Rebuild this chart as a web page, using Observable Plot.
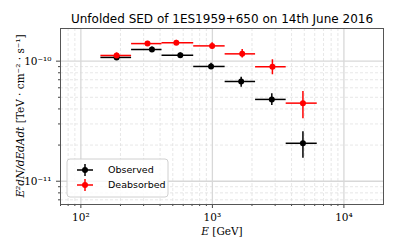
<!DOCTYPE html>
<html><head><meta charset="utf-8">
<script src="https://cdn.jsdelivr.net/npm/d3@7"></script>
<script src="https://cdn.jsdelivr.net/npm/@observablehq/plot@0.6"></script>
<style>body{margin:0;background:#fff}</style>
</head><body><div id="chart"></div>
<script>
const title = "Unfolded SED of 1ES1959+650 on 14th June 2016";
const binLow  = [142, 243, 414, 721, 1250, 2130, 3640];
const binHigh = [243, 414, 721, 1250, 2130, 3640, 6270];
const obsE    = [187, 347, 570, 977, 1655, 2830, 4880];
const obsFlux = [1.074e-10, 1.25e-10, 1.12e-10, 9.03e-11, 6.77e-11, 4.8e-11, 2.07e-11];
const obsLo   = [1.02e-10, 1.20e-10, 1.07e-10, 8.5e-11, 6.07e-11, 4.27e-11, 1.556e-11];
const obsHi   = [1.13e-10, 1.31e-10, 1.17e-10, 9.6e-11, 7.36e-11, 5.35e-11, 2.58e-11];
const deaE    = [187, 321, 532, 995, 1685, 2860, 4880];
const deaFlux = [1.115e-10, 1.40e-10, 1.42e-10, 1.34e-10, 1.15e-10, 8.98e-11, 4.47e-11];
const deaLo   = [1.06e-10, 1.34e-10, 1.36e-10, 1.26e-10, 1.06e-10, 7.7e-11, 3.31e-11];
const deaHi   = [1.17e-10, 1.46e-10, 1.49e-10, 1.42e-10, 1.25e-10, 1.027e-10, 5.59e-11];
const seriesNames = ["Observed", "Deabsorbed"];
const seriesColors = ["#000000", "#ff0000"];
const xMajor = [1e2, 1e3, 1e4];
const xMinor = [70, 80, 90, 200, 300, 400, 500, 600, 700, 800, 900, 2000, 3000, 4000, 5000, 6000, 7000, 8000, 9000];
const yMajor = [1e-11, 1e-10];
const yMinor = [7e-12, 8e-12, 9e-12, 2e-11, 3e-11, 4e-11, 5e-11, 6e-11, 7e-11, 8e-11, 9e-11];

const rows = [];
obsE.forEach((e, i) => rows.push({s: seriesNames[0], e, f: obsFlux[i], lo: obsLo[i], hi: obsHi[i], x1: binLow[i], x2: binHigh[i]}));
deaE.forEach((e, i) => rows.push({s: seriesNames[1], e, f: deaFlux[i], lo: deaLo[i], hi: deaHi[i], x1: binLow[i], x2: binHigh[i]}));

const supMap = {"-":"⁻","0":"⁰","1":"¹","2":"²","3":"³","4":"⁴","5":"⁵","6":"⁶","7":"⁷","8":"⁸","9":"⁹"};
const fmtPow = v => "10" + String(Math.round(Math.log10(v))).split("").map(c => supMap[c]).join("");
const serif = "DejaVu Serif";
const sans = "DejaVu Sans";

const chart = Plot.plot({
  width: 399, height: 249,
  marginLeft: 60, marginRight: 16, marginTop: 28, marginBottom: 45,
  style: {background: "#fff"},
  x: {type: "log", domain: [70, 20000]},
  y: {type: "log", domain: [6.4e-12, 1.87e-10]},
  color: {domain: seriesNames, range: seriesColors},
  marks: [
    Plot.gridX(xMinor, {stroke: "#dcdcdc", strokeOpacity: 1, strokeDasharray: "3,2", strokeWidth: 0.7}),
    Plot.gridY(yMinor, {stroke: "#dcdcdc", strokeOpacity: 1, strokeDasharray: "3,2", strokeWidth: 0.7}),
    Plot.gridX(xMajor, {stroke: "#d8d8d8", strokeOpacity: 1, strokeWidth: 1.3}),
    Plot.gridY(yMajor, {stroke: "#d8d8d8", strokeOpacity: 1, strokeWidth: 1.3}),
    Plot.axisX(xMajor, {tickSize: 4, tickFormat: fmtPow, fontFamily: serif, fontSize: 10.5, label: null, stroke: "#444"}),
    Plot.axisX(xMinor, {tickSize: 2, tickFormat: () => "", label: null, stroke: "#444"}),
    Plot.axisY(yMajor, {tickSize: 4, tickFormat: fmtPow, fontFamily: serif, fontSize: 10.5, label: null, stroke: "#444"}),
    Plot.axisY(yMinor, {tickSize: 2, tickFormat: () => "", label: null, stroke: "#444"}),
    Plot.frame({stroke: "#555", strokeWidth: 1}),
    Plot.ruleY(rows, {y: "f", x1: "x1", x2: "x2", stroke: "s", strokeWidth: 1.5}),
    Plot.ruleX(rows, {x: "e", y1: "lo", y2: "hi", stroke: "s", strokeWidth: 1.5}),
    Plot.dot(rows, {x: "e", y: "f", fill: "s", r: 3}),
    Plot.text([title], {frameAnchor: "top", dy: -14, fontSize: 12, fontFamily: sans, fill: "#000"})
  ]
});
document.getElementById("chart").appendChild(chart);

const svg = d3.select(chart);
// y label
const yl = svg.append("text")
  .attr("transform", "translate(21,116) rotate(-90)")
  .attr("text-anchor", "middle").attr("dominant-baseline", "middle")
  .attr("font-family", serif).attr("font-size", 10.5).attr("fill", "#000");
yl.append("tspan").attr("font-style", "italic").text("E²dN/dEdAdt");
yl.append("tspan").text(" [TeV · cm⁻² · s⁻¹]");
// x label
const xl = svg.append("text")
  .attr("x", 222).attr("y", 232)
  .attr("text-anchor", "middle").attr("dominant-baseline", "middle")
  .attr("font-family", serif).attr("font-size", 10.5).attr("fill", "#000");
xl.append("tspan").attr("font-style", "italic").text("E");
xl.append("tspan").text(" [GeV]");
// legend
const lg = svg.append("g");
lg.append("rect").attr("x", 67).attr("y", 159).attr("width", 101).attr("height", 38)
  .attr("rx", 3).attr("fill", "#fff").attr("fill-opacity", 0.8).attr("stroke", "#d0d0d0");
seriesNames.forEach((name, i) => {
  const cy = 170 + i * 15, cx = 85;
  const c = seriesColors[i];
  lg.append("line").attr("x1", cx - 8).attr("x2", cx + 8).attr("y1", cy).attr("y2", cy).attr("stroke", c).attr("stroke-width", 1.5);
  lg.append("line").attr("x1", cx).attr("x2", cx).attr("y1", cy - 6).attr("y2", cy + 6).attr("stroke", c).attr("stroke-width", 1.5);
  lg.append("circle").attr("cx", cx).attr("cy", cy).attr("r", 3).attr("fill", c);
  lg.append("text").attr("x", 108).attr("y", cy).attr("text-anchor", "start").attr("dominant-baseline", "middle")
    .attr("font-family", sans).attr("font-size", 9.5).attr("fill", "#000").text(name);
});
</script>
</body></html>
